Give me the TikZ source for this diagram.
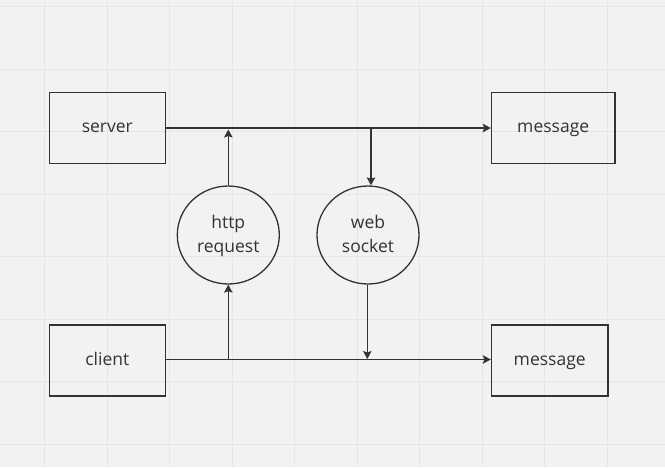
\documentclass[tikz,border=0pt]{standalone}
\usepackage{fontspec}
\setmainfont{Open Sans}
\usetikzlibrary{arrows.meta,shapes.geometric}
\definecolor{bg}{HTML}{F2F2F2}
\definecolor{gridc}{HTML}{E6E6E6}
\definecolor{ink}{HTML}{333333}
\tikzset{
  boxnode/.style={draw=ink, line width=1.3pt, rectangle, inner sep=0pt, text=ink,
    font=\fontsize{17.5}{24}\selectfont},
  circnode/.style={draw=ink, line width=1.3pt, ellipse, inner sep=0pt, text=ink,
    minimum width=102pt, minimum height=98pt, align=center,
    font=\fontsize{17.5}{24}\selectfont},
  arr/.style={draw=ink, line width=1.3pt, -{Stealth[length=8pt,width=8.5pt,inset=1.5pt]}}
}
\begin{document}
\begin{tikzpicture}[x=1pt,y=-1pt]
\fill[bg] (0,0) rectangle (665,467);
\useasboundingbox (0,0) rectangle (665,467);
\foreach \gx in {44.5,107,169.5,232,294.5,357,419.5,482,544.5,607}
  \draw[gridc, line width=1pt] (\gx,0) -- (\gx,467);
\foreach \gy in {6.5,69,131.5,194,256.5,319,381.5,444}
  \draw[gridc, line width=1pt] (0,\gy) -- (665,\gy);

\node[boxnode, minimum width=116pt, minimum height=71pt] (server) at (107.3,128) {\strut server};
\node[boxnode, minimum width=116pt, minimum height=71pt] (client) at (107.3,360.5) {\strut client};
\node[boxnode, minimum width=123.5pt, minimum height=71pt] (msg1) at (553.2,128) {\strut message};
\node[boxnode, minimum width=116.5pt, minimum height=71pt] (msg2) at (549.7,360.5) {\strut message};

\node[circnode] (http) at (228.3,235) {\rule{0pt}{18.5pt}http\\\strut request};
\node[circnode] (web) at (368,235) {\rule{0pt}{18.5pt}web\\\strut socket};

\coordinate (t1) at (228.3,129.5);
\coordinate (t2) at (371,128);
\coordinate (b1) at (228.3,359.5);
\coordinate (b2) at (367.3,359);

\draw[arr] (server.east) -- (msg1.west);
\draw[arr] ([yshift=1pt]client.east) -- ([yshift=1pt]msg2.west);
\draw[arr] (http.north) -- (t1);
\draw[arr] (t2) -- (t2 |- web.north);
\draw[arr] (b1) -- (http.south);
\draw[arr] (b2 |- web.south) -- (b2);
\end{tikzpicture}
\end{document}
